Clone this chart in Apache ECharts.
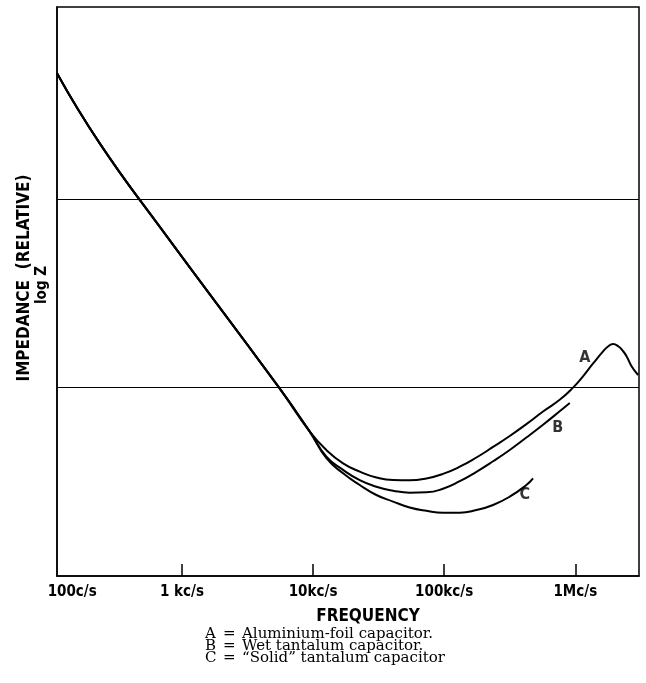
<!DOCTYPE html>
<html>
<head>
<meta charset="utf-8">
<script src="https://cdn.jsdelivr.net/npm/echarts@6/dist/echarts.min.js"></script>
<style>
html,body{margin:0;padding:0;background:#fff;}
#chart{width:646px;height:683px;}
</style>
</head>
<body>
<div id="chart"></div>
<script>
// x values are log10(frequency in c/s); y values are relative log Z
const xMin = 2.047;
const xMax = 6.486;
const yMin = 0;
const yMax = 3.02;
const gridValues = [1, 2];
const tickValues = [3, 4, 5, 6];
const labelValues = [2.163, 3, 4, 5, 6];
const tickLabels = ['100c/s', '1 kc/s', '10kc/s', '100kc/s', '1Mc/s'];

const commonPart = [[2.047,2.668],[2.373,2.296],[2.830,1.854],[3.738,1.002],[3.975,0.766]];
const curveA = [[4.102,0.668],[4.229,0.598],[4.356,0.554],[4.483,0.523],[4.610,0.509],[4.737,0.508],[4.865,0.518],[4.991,0.542],[5.119,0.580],[5.246,0.629],[5.373,0.685],[5.500,0.743],[5.627,0.806],[5.754,0.873],[5.881,0.935],[5.983,1.000],[6.059,1.060],[6.136,1.128],[6.212,1.192],[6.250,1.218],[6.288,1.231],[6.330,1.218],[6.364,1.194],[6.390,1.168],[6.428,1.115],[6.479,1.067]];
const curveB = [[4.102,0.633],[4.229,0.563],[4.356,0.509],[4.483,0.474],[4.610,0.453],[4.737,0.442],[4.865,0.444],[4.991,0.463],[5.119,0.503],[5.246,0.553],[5.373,0.609],[5.500,0.669],[5.627,0.735],[5.754,0.803],[5.881,0.874],[5.958,0.918]];
const curveC = [[4.102,0.625],[4.229,0.545],[4.356,0.483],[4.483,0.430],[4.610,0.395],[4.737,0.364],[4.865,0.346],[4.991,0.336],[5.119,0.336],[5.246,0.350],[5.373,0.377],[5.500,0.421],[5.627,0.483],[5.678,0.518]];

const curveNames = ['A', 'B', 'C'];
const curveLabelPos = [[6.072,1.157],[5.866,0.785],[5.615,0.430]];
const captionTexts = ['Aluminium-foil capacitor.', 'Wet tantalum capacitor.', '\u201cSolid\u201d tantalum capacitor'];

const sans = '"DejaVu Sans Condensed", "DejaVu Sans", sans-serif';
const serif = '"DejaVu Serif", "Liberation Serif", serif';

const chart = echarts.init(document.getElementById('chart'));

function lineSeries(name, tail, extra) {
  return Object.assign({
    name: name, type: 'line', data: commonPart.concat(tail),
    symbol: 'none', smooth: 0.5,
    lineStyle: {color: '#000', width: 2},
    z: 3
  }, extra || {});
}

const captionGraphics = curveNames.map((k, i) => ({
  type: 'text', x: 205, y: 634 + i * 12,
  style: {
    text: '{k|' + k + '}{e|=}{t|' + captionTexts[i] + '}',
    rich: {
      k: {width: 18, font: '15px ' + serif, fill: '#000'},
      e: {width: 19, font: '15px ' + serif, fill: '#000'},
      t: {font: '15px ' + serif, fill: '#000'}
    },
    font: '15px ' + serif, fill: '#000', textVerticalAlign: 'middle'
  }
}));

const option = {
  animation: false,
  grid: {left: 57, right: 7, top: 7, bottom: 107, show: true, borderColor: '#000', borderWidth: 1.5},
  xAxis: {
    type: 'value', min: xMin, max: xMax,
    axisLine: {show: true, onZero: false, lineStyle: {color: '#000', width: 1.5}},
    axisTick: {show: true, inside: true, length: 12, customValues: tickValues, lineStyle: {color: '#000', width: 1.5}},
    axisLabel: {
      customValues: labelValues, margin: 9, color: '#000',
      fontFamily: sans, fontSize: 15, fontWeight: 'bold',
      formatter: function (v) {
        let best = 0;
        for (let i = 0; i < labelValues.length; i++) {
          if (Math.abs(labelValues[i] - v) < Math.abs(labelValues[best] - v)) best = i;
        }
        return tickLabels[best];
      }
    },
    splitLine: {show: false},
    name: 'FREQUENCY', nameLocation: 'middle', nameGap: 32,
    nameTextStyle: {color: '#000', fontFamily: sans, fontSize: 17, fontWeight: 'bold', padding: [0, 0, 0, 40]}
  },
  yAxis: {
    type: 'value', min: yMin, max: yMax,
    axisLine: {show: true, lineStyle: {color: '#000', width: 1.5}},
    axisTick: {show: false}, axisLabel: {show: false},
    splitLine: {show: false}
  },
  graphic: [
    {type: 'text', x: 25, y: 278, rotation: Math.PI / 2,
     style: {text: 'IMPEDANCE  (RELATIVE)', font: 'bold 17px ' + sans, fill: '#000', textAlign: 'center', textVerticalAlign: 'middle'}},
    {type: 'text', x: 42, y: 285, rotation: Math.PI / 2,
     style: {text: 'log Z', font: 'bold 15px ' + sans, fill: '#000', textAlign: 'center', textVerticalAlign: 'middle'}}
  ].concat(captionGraphics),
  series: [
    lineSeries('A', curveA, {
      markLine: {
        silent: true, symbol: 'none', label: {show: false},
        lineStyle: {color: '#000', width: 1.2, type: 'solid'},
        data: gridValues.map(v => ({yAxis: v}))
      }
    }),
    lineSeries('B', curveB),
    lineSeries('C', curveC),
    {
      type: 'scatter', symbolSize: 1, itemStyle: {color: 'rgba(0,0,0,0)'},
      data: curveLabelPos.map((p, i) => ({value: p, name: curveNames[i]})),
      label: {show: true, position: 'inside', formatter: '{b}', color: '#000', fontFamily: sans, fontSize: 16, fontWeight: 'bold'},
      z: 4
    }
  ]
};
chart.setOption(option);
</script>
</body>
</html>
